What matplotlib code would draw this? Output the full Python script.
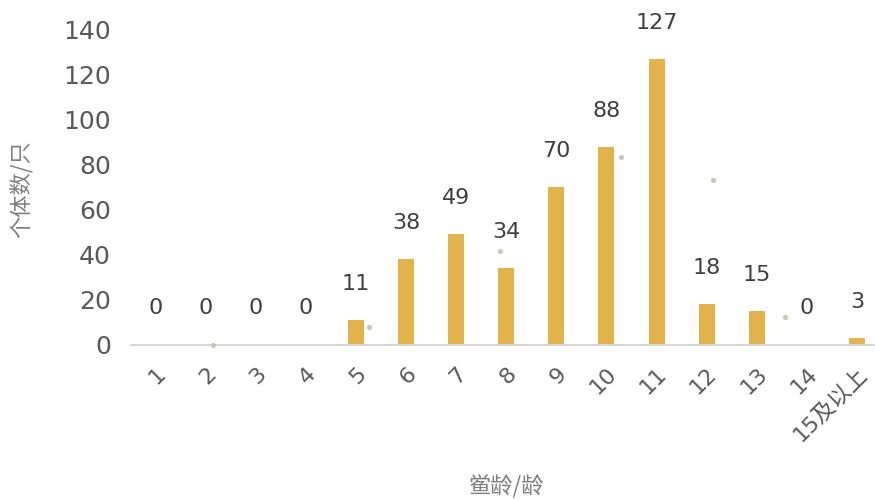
import matplotlib
matplotlib.use("Agg")
import matplotlib.pyplot as plt
import numpy as np

categories = ["1", "2", "3", "4", "5", "6", "7", "8", "9", "10", "11", "12", "13", "14", "15及以上"]
counts = [0, 0, 0, 0, 11, 38, 49, 34, 70, 88, 127, 18, 15, 0, 3]
dot_x = [2.14, 5.27, 7.87, 10.30, 12.12, 13.56]
dot_y = [0, 7.7, 41.7, 83.4, 73.1, 12.4]
y_ticks = [0, 20, 40, 60, 80, 100, 120, 140]

fams = ["DejaVu Sans", "Noto Sans CJK SC"]
plt.rcParams['font.family'] = fams

fig = plt.figure(figsize=(8.75, 5), dpi=100)
ax = fig.add_axes([130.5 / 875, 1 - 344.5 / 500, (882 - 130.5) / 875, (344.5 - 29.8) / 500])

x = np.arange(1, len(categories) + 1)
bars = ax.bar(x, counts, width=0.32, color="#E2B34A", zorder=2)
ax.scatter(dot_x, dot_y, s=14, color="#C3CBB9", zorder=3, clip_on=False, linewidths=0)

for xi, v in zip(x, counts):
    ax.annotate(str(v), (xi, v), xytext=(0, 26), textcoords="offset points",
                ha="center", va="center", fontsize=16, color="#404040")

ax.set_xlim(0.5, len(categories) + 0.5)
ax.set_ylim(0, 140)
ax.set_yticks(y_ticks)
ax.set_yticklabels([str(t) for t in y_ticks], fontsize=18, color="#595959")
ax.set_xticks(x)
ax.set_xticklabels(categories, fontsize=16, color="#595959", rotation=45,
                   ha="right", rotation_mode="anchor")
ax.tick_params(axis="both", length=0)
ax.tick_params(axis="y", pad=14)
ax.tick_params(axis="x", pad=14)

for s in ["top", "right", "left"]:
    ax.spines[s].set_visible(False)
ax.spines["bottom"].set_color("#D9D9D9")
ax.spines["bottom"].set_linewidth(1.5)

ax.set_xlabel("鲎龄/龄", family=["Noto Sans CJK SC", "DejaVu Sans"], fontsize=16,
              color="#7F7F7F", fontweight="light", va="center")
ax.xaxis.set_label_coords((506 - 130.5) / (882 - 130.5), (344.5 - 487) / (344.5 - 29.8))
ax.set_ylabel("个体数/只", family=["Noto Sans CJK SC", "DejaVu Sans"], fontsize=16,
              color="#7F7F7F", fontweight="light", va="center")
ax.yaxis.set_label_coords((22 - 130.5) / (882 - 130.5), (344.5 - 189) / (344.5 - 29.8))

fig.savefig("out.png", dpi=100)
